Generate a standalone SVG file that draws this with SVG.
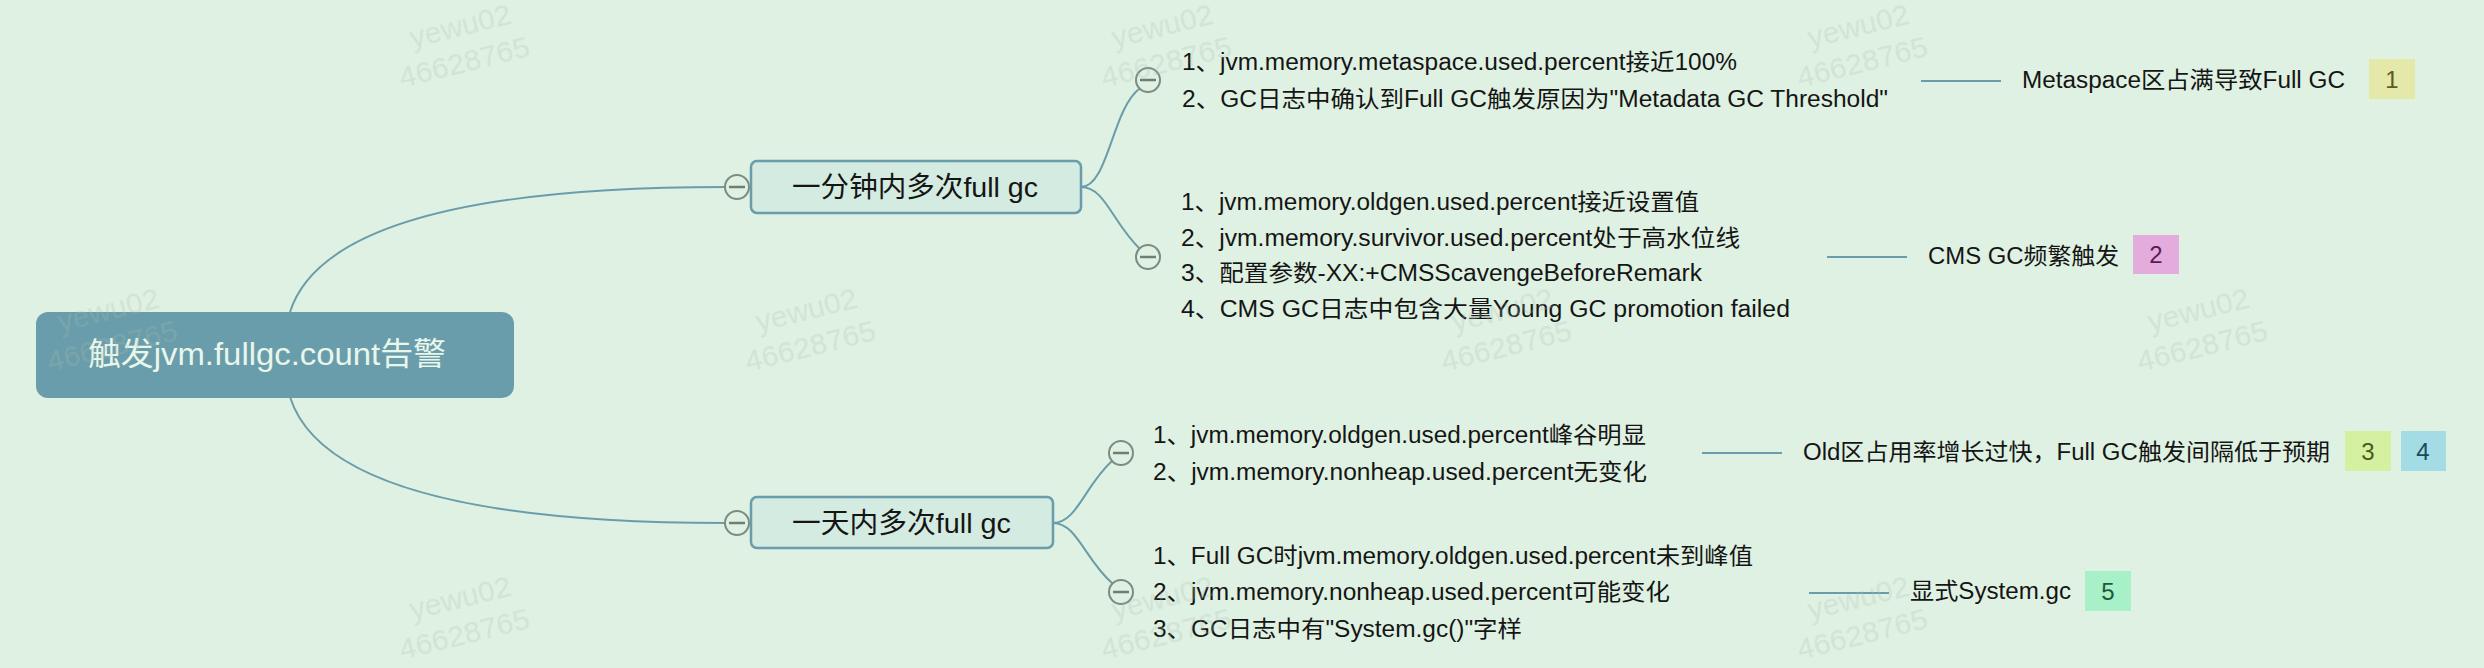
<svg xmlns="http://www.w3.org/2000/svg" width="2484" height="668" viewBox="0 0 2484 668">
<style>
.conn{fill:none;stroke:#6a9dab;stroke-width:2}
.tog circle{fill:#dff1e2;stroke:#7d8c82;stroke-width:2}
.tog line{stroke:#6f7d74;stroke-width:2.5}
.t{font-family:"Liberation Sans","Noto Sans CJK SC",sans-serif;fill:#151515}
.c{font-size:23px}
.topic{fill:#d3ebe0;stroke:#6a9dab;stroke-width:2.5}
.bt{font-family:"Liberation Sans",sans-serif;font-size:24px;text-anchor:middle}
.wm{font-family:"Liberation Sans",sans-serif;font-size:30px;fill:#a9bfae;opacity:.26}
</style>
<defs>
<g id="tg" class="tog"><circle r="12"/><line x1="-8" y1="0" x2="8" y2="0"/></g>
</defs>
<rect width="2484" height="668" fill="#dff1e2"/>

<g id="connectors">
<path class="conn" d="M290,312 Q330,187 725,187"/>
<path class="conn" d="M290,397 Q330,523 725,523"/>
<path class="conn" d="M1081,187 C1108,187 1112,110 1139,89"/>
<path class="conn" d="M1081,187 C1105,187 1112,222 1140,249"/>
<path class="conn" d="M1053,523 C1077,523 1085,485 1112,461"/>
<path class="conn" d="M1053,523 C1077,523 1085,560 1113,584"/>
<path class="conn" d="M1921,81 H2001"/>
<path class="conn" d="M1827,257 H1907"/>
<path class="conn" d="M1702,453 H1782"/>
<path class="conn" d="M1809,593 H1889"/>
</g>

<g id="root">
<rect x="36" y="312" width="478" height="86" rx="12" fill="#6a9dab"/>
<text class="t" x="88" y="365" font-size="32" style="fill:#e9f6ea" textLength="358" lengthAdjust="spacingAndGlyphs">触发jvm.fullgc.count告警</text>
</g>

<g id="topic1">
<use href="#tg" x="737" y="187"/>
<rect class="topic" x="751" y="161" width="330" height="52" rx="6"/>
<text class="t" x="792" y="197" font-size="28" textLength="246" lengthAdjust="spacingAndGlyphs">一分钟内多次full gc</text>
</g>

<g id="topic2">
<use href="#tg" x="737" y="523"/>
<rect class="topic" x="751" y="497" width="302" height="51" rx="6"/>
<text class="t" x="792" y="533" font-size="28" textLength="219" lengthAdjust="spacingAndGlyphs">一天内多次full gc</text>
</g>

<g id="detailA">
<use href="#tg" x="1148" y="80"/>
<text class="t c" x="1182" y="70" textLength="555" lengthAdjust="spacingAndGlyphs">1、jvm.memory.metaspace.used.percent接近100%</text>
<text class="t c" x="1182" y="107" textLength="706" lengthAdjust="spacingAndGlyphs">2、GC日志中确认到Full GC触发原因为"Metadata GC Threshold"</text>
</g>

<g id="detailB">
<use href="#tg" x="1148" y="257"/>
<text class="t c" x="1181" y="210" textLength="518" lengthAdjust="spacingAndGlyphs">1、jvm.memory.oldgen.used.percent接近设置值</text>
<text class="t c" x="1181" y="246" textLength="559" lengthAdjust="spacingAndGlyphs">2、jvm.memory.survivor.used.percent处于高水位线</text>
<text class="t c" x="1181" y="281" textLength="521" lengthAdjust="spacingAndGlyphs">3、配置参数-XX:+CMSScavengeBeforeRemark</text>
<text class="t c" x="1181" y="317" textLength="609" lengthAdjust="spacingAndGlyphs">4、CMS GC日志中包含大量Young GC promotion failed</text>
</g>

<g id="detailC">
<use href="#tg" x="1121" y="453"/>
<text class="t c" x="1153" y="443" textLength="493" lengthAdjust="spacingAndGlyphs">1、jvm.memory.oldgen.used.percent峰谷明显</text>
<text class="t c" x="1153" y="480" textLength="494" lengthAdjust="spacingAndGlyphs">2、jvm.memory.nonheap.used.percent无变化</text>
</g>

<g id="detailD">
<use href="#tg" x="1121" y="592"/>
<text class="t c" x="1153" y="564" textLength="600" lengthAdjust="spacingAndGlyphs">1、Full GC时jvm.memory.oldgen.used.percent未到峰值</text>
<text class="t c" x="1153" y="600" textLength="517" lengthAdjust="spacingAndGlyphs">2、jvm.memory.nonheap.used.percent可能变化</text>
<text class="t c" x="1153" y="637" textLength="369" lengthAdjust="spacingAndGlyphs">3、GC日志中有"System.gc()"字样</text>
</g>

<g id="summary1">
<text class="t c" x="2022" y="88" textLength="323" lengthAdjust="spacingAndGlyphs">Metaspace区占满导致Full GC</text>
<rect x="2369" y="59" width="46" height="40" fill="#e4e8a8"/>
<text class="bt" x="2392" y="88" fill="#5c5a2a">1</text>
</g>

<g id="summary2">
<text class="t c" x="1928" y="264" textLength="191" lengthAdjust="spacingAndGlyphs">CMS GC频繁触发</text>
<rect x="2133" y="235" width="46" height="39" fill="#e3acdc"/>
<text class="bt" x="2156" y="263" fill="#5a1a55">2</text>
</g>

<g id="summary3">
<text class="t c" x="1803" y="460" textLength="527" lengthAdjust="spacingAndGlyphs">Old区占用率增长过快，Full GC触发间隔低于预期</text>
<rect x="2345" y="431" width="46" height="40" fill="#d5f0a0"/>
<text class="bt" x="2368" y="460" fill="#4a5a20">3</text>
<rect x="2401" y="431" width="45" height="40" fill="#a4dce6"/>
<text class="bt" x="2423" y="460" fill="#1a4a5a">4</text>
</g>

<g id="summary5">
<text class="t c" x="1910" y="599" textLength="161" lengthAdjust="spacingAndGlyphs">显式System.gc</text>
<rect x="2085" y="571" width="46" height="40" fill="#a8f0c8"/>
<text class="bt" x="2108" y="600" fill="#1a5a3a">5</text>
</g>

<g id="watermarks" class="wm">
<g transform="translate(402,88) rotate(-14)"><text x="20" y="-36">yewu02</text><text x="0" y="0">46628765</text></g>
<g transform="translate(1104,88) rotate(-14)"><text x="20" y="-36">yewu02</text><text x="0" y="0">46628765</text></g>
<g transform="translate(1800,88) rotate(-14)"><text x="20" y="-36">yewu02</text><text x="0" y="0">46628765</text></g>
<g transform="translate(50,372) rotate(-14)"><text x="20" y="-36">yewu02</text><text x="0" y="0">46628765</text></g>
<g transform="translate(748,372) rotate(-14)"><text x="20" y="-36">yewu02</text><text x="0" y="0">46628765</text></g>
<g transform="translate(1444,372) rotate(-14)"><text x="20" y="-36">yewu02</text><text x="0" y="0">46628765</text></g>
<g transform="translate(2140,372) rotate(-14)"><text x="20" y="-36">yewu02</text><text x="0" y="0">46628765</text></g>
<g transform="translate(402,660) rotate(-14)"><text x="20" y="-36">yewu02</text><text x="0" y="0">46628765</text></g>
<g transform="translate(1104,660) rotate(-14)"><text x="20" y="-36">yewu02</text><text x="0" y="0">46628765</text></g>
<g transform="translate(1800,660) rotate(-14)"><text x="20" y="-36">yewu02</text><text x="0" y="0">46628765</text></g>
</g>
</svg>
